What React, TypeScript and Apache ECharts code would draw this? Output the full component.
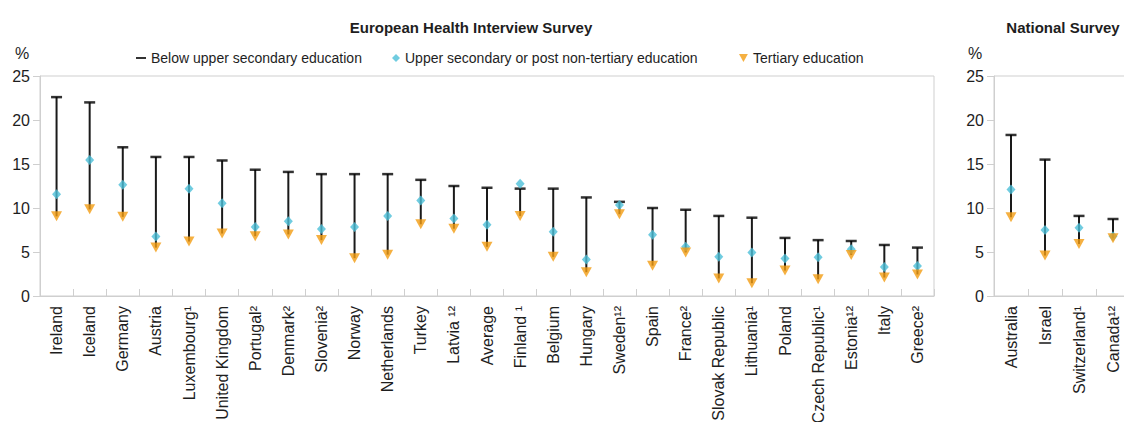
import React, { useEffect, useRef } from "react";
import * as echarts from "echarts";

const categoriesEU = [
  "Ireland", "Iceland", "Germany", "Austria", "Luxembourg¹", "United Kingdom",
  "Portugal²", "Denmark²", "Slovenia²", "Norway", "Netherlands", "Turkey",
  "Latvia ¹²", "Average", "Finland ¹", "Belgium", "Hungary", "Sweden¹²", "Spain",
  "France²", "Slovak Republic", "Lithuania¹", "Poland", "Czech Republic¹",
  "Estonia¹²", "Italy", "Greece²",
];
const belowEU = [22.6, 22.0, 16.9, 15.8, 15.8, 15.4, 14.35, 14.1, 13.85, 13.85, 13.85, 13.2, 12.5, 12.3, 12.2, 12.2, 11.2, 10.7, 10.0, 9.8, 9.1, 8.9, 6.6, 6.35, 6.25, 5.8, 5.5];
const upperEU = [11.55, 15.45, 12.65, 6.75, 12.2, 10.55, 7.85, 8.5, 7.6, 7.85, 9.1, 10.85, 8.8, 8.1, 12.75, 7.3, 4.15, 10.35, 6.95, 5.6, 4.45, 4.95, 4.25, 4.4, 5.3, 3.3, 3.4];
const tertiaryEU = [9.05, 9.85, 9.0, 5.5, 6.2, 7.1, 6.8, 7.0, 6.35, 4.3, 4.7, 8.15, 7.65, 5.6, 9.1, 4.45, 2.7, 9.3, 3.45, 4.95, 2.0, 1.45, 2.9, 1.9, 4.65, 2.1, 2.45];

const categoriesNat = ["Australia", "Israel", "Switzerland¹", "Canada¹²"];
const belowNat = [18.3, 15.5, 9.1, 8.75];
const upperNat = [12.1, 7.5, 7.75, 6.8];
const tertiaryNat = [8.95, 4.6, 5.9, 6.55];

const yTicks = [0, 5, 10, 15, 20, 25];

const NAME_BELOW = "Below upper secondary education";
const NAME_UPPER = "Upper secondary or post non-tertiary education";
const NAME_TERT = "Tertiary education";

const FONT = "'Liberation Sans', Arial, Helvetica, sans-serif";
const TEXT = "#1e1e1e";
const AXIS = "#cfcfcf";
const BLUE = "#4cbfd8";
const ORANGE = "#f39c12";
const LINE = "#1a1a1a";

export default function App() {
  const ref = useRef<HTMLDivElement>(null);
  useEffect(() => {
    if (!ref.current) return;
    const chart = echarts.init(ref.current, null, { renderer: "svg" });

    const xAxisBase = (cats: string[], gi: number) => ({
      type: "category",
      gridIndex: gi,
      data: cats,
      boundaryGap: true,
      axisLine: { show: true, lineStyle: { color: AXIS, width: 1 } },
      axisTick: { show: true, inside: true, length: 7, lineStyle: { color: AXIS } },
      axisLabel: {
        rotate: 90,
        margin: 10,
        interval: 0,
        fontSize: 16,
        fontFamily: FONT,
        color: TEXT,
      },
      splitLine: { show: false },
    });
    const yAxisBase = (gi: number) => ({
      type: "value",
      gridIndex: gi,
      min: yTicks[0],
      max: yTicks[yTicks.length - 1],
      interval: 5,
      axisLine: { show: true, lineStyle: { color: AXIS, width: 1 } },
      axisTick: { show: true, inside: false, length: 7, lineStyle: { color: AXIS } },
      axisLabel: { margin: 10, fontSize: 16, fontFamily: FONT, color: TEXT },
      splitLine: { show: false },
    });

    const lineSeries = (below: number[], tert: number[], gi: number) => ({
      type: "custom",
      xAxisIndex: gi,
      yAxisIndex: gi,
      z: 1,
      silent: true,
      data: below.map((b, i) => [i, b, tert[i]]),
      encode: { x: 0, y: [1, 2] },
      renderItem: (params: any, api: any) => {
        const i = api.value(0);
        const p1 = api.coord([i, api.value(1)]);
        const p2 = api.coord([i, api.value(2)]);
        return {
          type: "line",
          shape: { x1: p1[0], y1: p1[1], x2: p2[0], y2: p2[1] },
          style: { stroke: LINE, lineWidth: 2 },
        };
      },
    });

    const capSeries = (below: number[], gi: number) => ({
      name: NAME_BELOW,
      type: "scatter",
      xAxisIndex: gi,
      yAxisIndex: gi,
      z: 2,
      symbol: "rect",
      symbolSize: [11, 2.5],
      itemStyle: { color: "#000000" },
      data: below,
    });
    const upperSeries = (upper: number[], gi: number) => ({
      name: NAME_UPPER,
      type: "scatter",
      xAxisIndex: gi,
      yAxisIndex: gi,
      z: 3,
      symbol: "diamond",
      symbolSize: [9, 10],
      itemStyle: { color: BLUE },
      data: upper,
    });
    const tertSeries = (tert: number[], gi: number) => ({
      name: NAME_TERT,
      type: "scatter",
      xAxisIndex: gi,
      yAxisIndex: gi,
      z: 4,
      symbol: "triangle",
      symbolRotate: 180,
      symbolSize: [11, 10],
      itemStyle: { color: ORANGE },
      data: tert,
    });

    const legendText = { fontSize: 14, fontFamily: FONT, color: TEXT };

    chart.setOption({
      animation: false,
      backgroundColor: "#ffffff",
      textStyle: { fontFamily: FONT },
      title: [
        {
          text: "European Health Interview Survey",
          left: 466,
          top: 15,
          textAlign: "center",
          textStyle: { fontSize: 15, fontWeight: "bold", fontFamily: FONT, color: TEXT },
        },
        {
          text: "National Survey",
          left: 1058,
          top: 15,
          textAlign: "center",
          textStyle: { fontSize: 15, fontWeight: "bold", fontFamily: FONT, color: TEXT },
        },
      ],
      legend: [
        {
          data: [{ name: NAME_BELOW, icon: "rect" }],
          left: 131,
          top: 46,
          itemWidth: 10,
          itemHeight: 2,
          textStyle: legendText,
          selectedMode: false,
        },
        {
          data: [{ name: NAME_UPPER, icon: "diamond" }],
          left: 387,
          top: 46,
          itemWidth: 8,
          itemHeight: 8,
          textStyle: legendText,
          selectedMode: false,
        },
        {
          data: [{ name: NAME_TERT, icon: "path://M0,0L10,0L5,9Z" }],
          left: 734,
          top: 46,
          itemWidth: 9,
          itemHeight: 8,
          textStyle: legendText,
          selectedMode: false,
        },
      ],
      graphic: [
        { type: "text", left: 15, top: 45, style: { text: "%", fontSize: 16, fontFamily: FONT, fill: TEXT } },
        { type: "text", left: 968, top: 45, style: { text: "%", fontSize: 16, fontFamily: FONT, fill: TEXT } },
      ],
      grid: [
        { left: 40, top: 76, width: 894, height: 220, show: true, borderColor: AXIS, borderWidth: 1, backgroundColor: "transparent", containLabel: false, outerBoundsMode: "none" },
        { left: 994, top: 76, width: 136, height: 220, show: true, borderColor: AXIS, borderWidth: 1, backgroundColor: "transparent", containLabel: false, outerBoundsMode: "none" },
      ],
      xAxis: [xAxisBase(categoriesEU, 0), xAxisBase(categoriesNat, 1)],
      yAxis: [yAxisBase(0), yAxisBase(1)],
      series: [
        lineSeries(belowEU, tertiaryEU, 0),
        capSeries(belowEU, 0),
        upperSeries(upperEU, 0),
        tertSeries(tertiaryEU, 0),
        lineSeries(belowNat, tertiaryNat, 1),
        capSeries(belowNat, 1),
        upperSeries(upperNat, 1),
        tertSeries(tertiaryNat, 1),
      ],
    });

    return () => chart.dispose();
  }, []);

  return (
    <div
      ref={ref}
      style={{ position: "absolute", left: 0, top: 0, width: 1124, height: 422 }}
    />
  );
}
